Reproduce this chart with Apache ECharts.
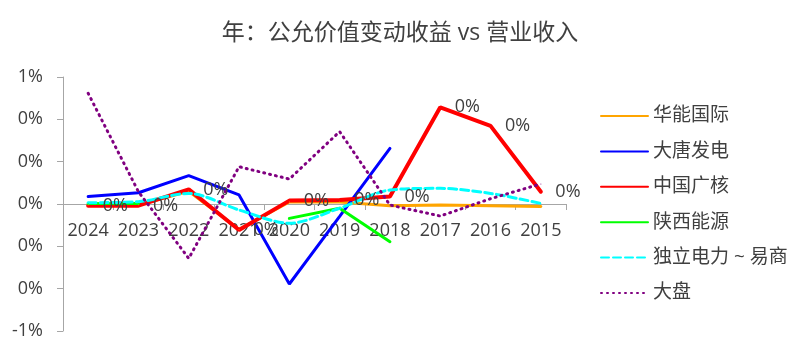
<!DOCTYPE html>
<html><head><meta charset="utf-8">
<script src="https://cdn.jsdelivr.net/npm/echarts@6/dist/echarts.min.js"></script>
<style>html,body{margin:0;padding:0;background:#fff}#c{width:800px;height:353px}</style>
</head><body><div id="c"></div>
<script>
var title = '年：公允价值变动收益 vs 营业收入';
var categories = ['2024','2023','2022','2021','2020','2019','2018','2017','2016','2015'];
var yTicks = {min: -0.6, max: 0.6, interval: 0.2};
// values in percent
var huaneng = [-0.005, -0.005, 0.06, -0.12, 0.01, 0.01, -0.008, -0.005, -0.008, -0.012];
var datang  = [0.035, 0.053, 0.134, 0.043, -0.378, -0.058, 0.263, null, null, null];
var cgn     = [-0.008, -0.008, 0.069, -0.123, 0.016, 0.019, 0.035, 0.457, 0.369, 0.058];
var shaanxi = [0.002, 0.002, null, null, -0.068, -0.02, -0.178, null, null, null];
var duli    = [0.006, 0.011, 0.05, -0.028, -0.091, -0.02, 0.066, 0.074, 0.05, 0.003];
var market  = [0.523, 0.058, -0.257, 0.176, 0.118, 0.342, -0.005, -0.057, 0.025, 0.095];
var names = ['华能国际','大唐发电','中国广核','陕西能源','独立电力 ~ 易商','大盘'];

var font = "'Open Sans','Noto Sans CJK SC',sans-serif";
var txt = '#404040';
function pct(v){ var r = Math.round(v); if (r === 0) r = 0; return r + '%'; }
function mk(name, data, color, width, type, extra){
  var s = {name:name, type:'line', data:data, symbol:'circle', symbolSize:1, showSymbol:true, connectNulls:false,
    labelLayout:{hideOverlap:false},
    lineStyle:{color:color, width:width, type:type, cap:'round'}, itemStyle:{color:color}};
  for (var k in extra) s[k] = extra[k];
  return s;
}
var chart = echarts.init(document.getElementById('c'));
chart.setOption({
  animation:false,
  title:{text:title, left:'center', top:17, textStyle:{fontFamily:font, fontSize:23, fontWeight:'normal', color:txt}},
  grid:{left:63, right:234, top:77, bottom:22, containLabel:false, outerBoundsMode:'none'},
  legend:{orient:'vertical', left:595, top:101, itemWidth:47, itemHeight:20, itemGap:15.4,
    itemStyle:{opacity:0},
    textStyle:{fontFamily:font, fontSize:19, color:txt, lineHeight:20}, data:names},
  xAxis:{type:'category', data:categories, boundaryGap:true, offset:-127,
    axisLine:{onZero:false, lineStyle:{color:'#a6a6a6', width:1}},
    axisTick:{show:true, length:6, interval:0, lineStyle:{color:'#a6a6a6'}},
    axisLabel:{fontFamily:font, fontSize:18, color:txt, margin:18, interval:0, hideOverlap:false}, splitLine:{show:false}},
  yAxis:{type:'value', min:yTicks.min, max:yTicks.max, interval:yTicks.interval,
    axisLine:{show:true, lineStyle:{color:'#a6a6a6', width:1}},
    axisTick:{show:true, length:6, lineStyle:{color:'#a6a6a6'}},
    axisLabel:{fontFamily:font, fontSize:18, color:txt, margin:20, formatter:pct},
    splitLine:{show:false}},
  series:[
    mk(names[0], huaneng, '#FFA500', 3, 'solid', {}),
    mk(names[1], datang, '#0000FF', 3, 'solid', {}),
    mk(names[2], cgn, '#FF0000', 4, 'solid', {label:{show:true, position:'right', distance:14,
      fontFamily:font, fontSize:18, color:txt, formatter:function(p){return pct(p.value);}}}),
    mk(names[3], shaanxi, '#00FF00', 3, 'solid', {}),
    mk(names[4], duli, '#00FFFF', 3, [8,4], {smooth:0.3}),
    mk(names[5], market, '#800080', 3, [1,5], {})
  ]
});
</script></body></html>
